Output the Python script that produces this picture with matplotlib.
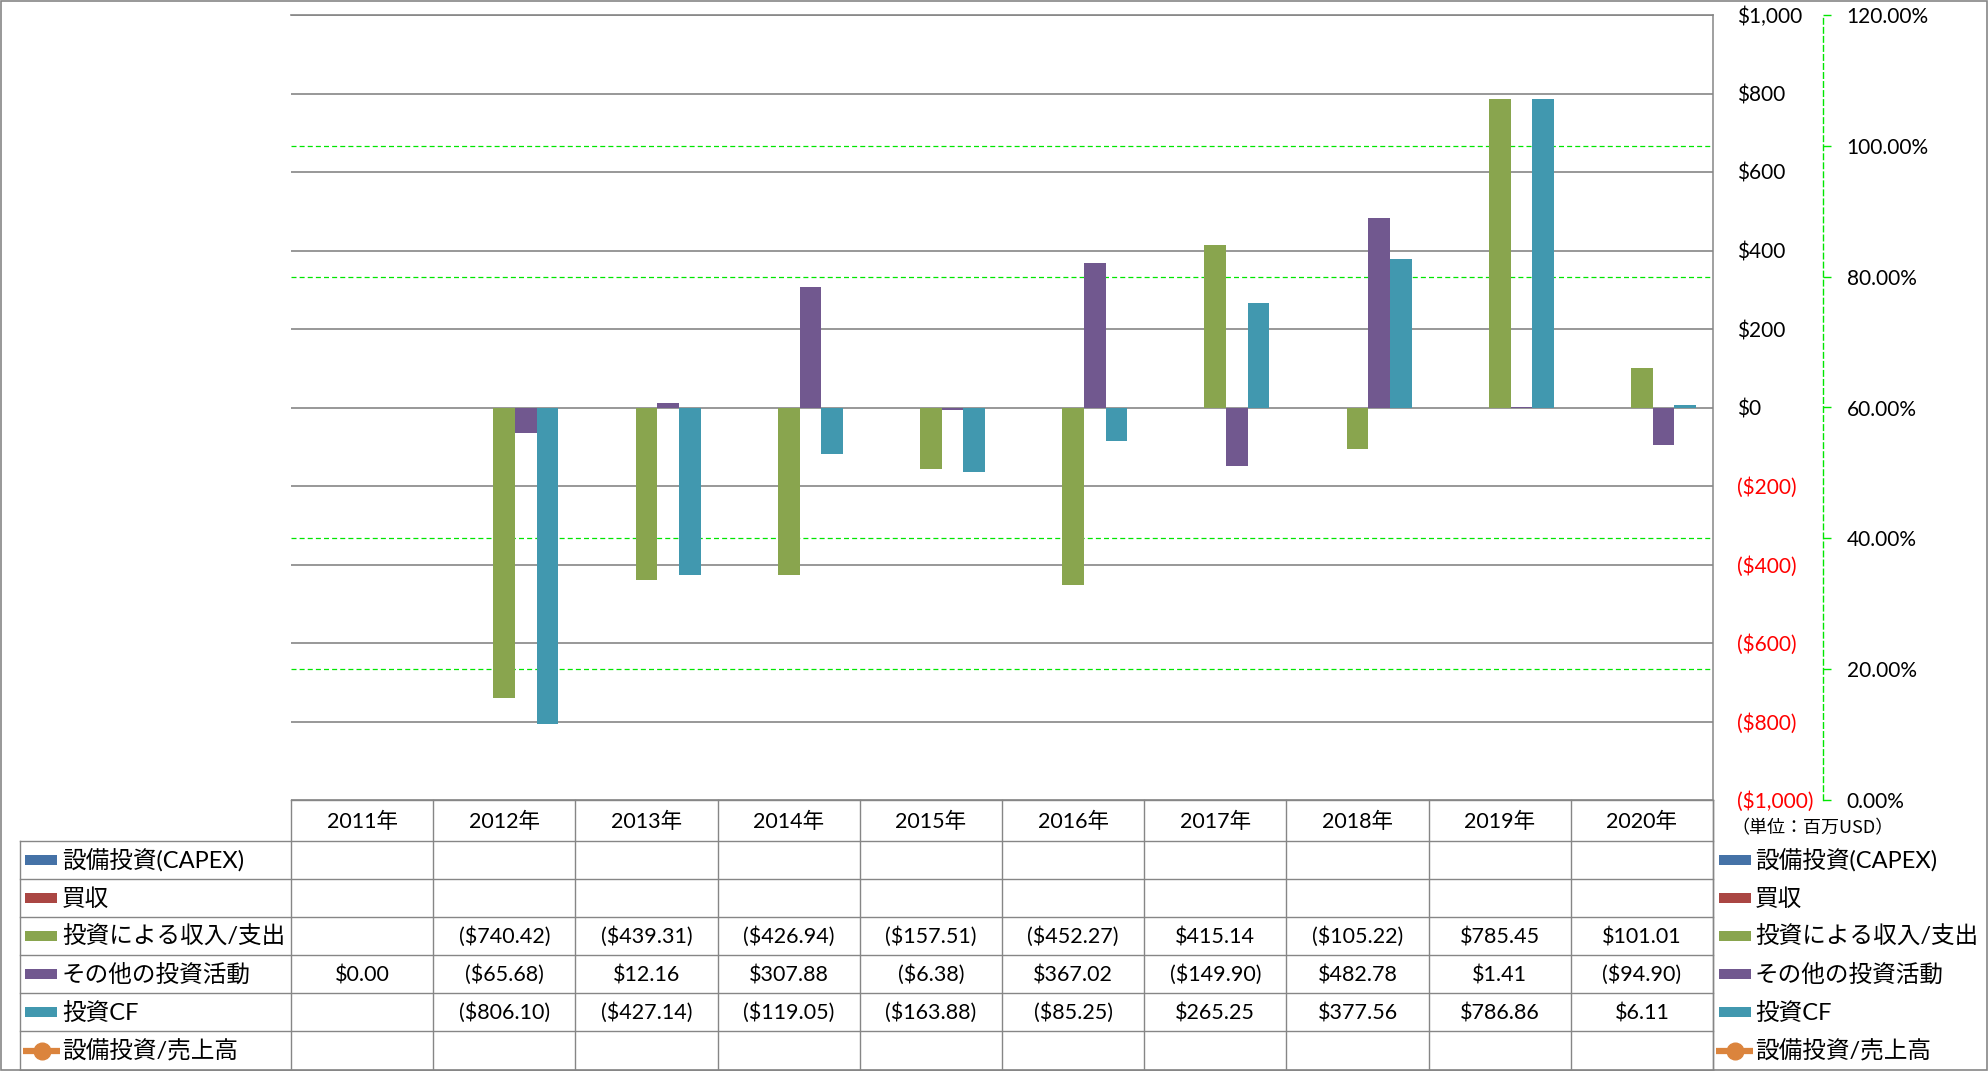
import numpy as np
import matplotlib
matplotlib.use("Agg")
import matplotlib.pyplot as plt
from matplotlib.patches import Rectangle
from matplotlib.lines import Line2D

plt.rcParams['font.family'] = ['Lato', 'Noto Sans CJK JP', 'DejaVu Sans']

# ---------------- data ----------------
years = ['2011年', '2012年', '2013年', '2014年', '2015年', '2016年', '2017年', '2018年', '2019年', '2020年']
series_names = ['設備投資(CAPEX)', '買収', '投資による収入/支出', 'その他の投資活動', '投資CF', '設備投資/売上高']
capex = [None, None, None, None, None, None, None, None, None, None]
acquisitions = [None, None, None, None, None, None, None, None, None, None]
invest_income = [None, -740.42, -439.31, -426.94, -157.51, -452.27, 415.14, -105.22, 785.45, 101.01]
other_invest = [0.00, -65.68, 12.16, 307.88, -6.38, 367.02, -149.90, 482.78, 1.41, -94.90]
invest_cf = [None, -806.10, -427.14, -119.05, -163.88, -85.25, 265.25, 377.56, 786.86, 6.11]
capex_ratio = [None, None, None, None, None, None, None, None, None, None]

y_ticks = [-1000, -800, -600, -400, -200, 0, 200, 400, 600, 800, 1000]
y_tick_labels = ['($1,000)', '($800)', '($600)', '($400)', '($200)', '$0', '$200', '$400', '$600', '$800', '$1,000']
pct_ticks = [0.0, 0.2, 0.4, 0.6, 0.8, 1.0, 1.2]
pct_tick_labels = ['0.00%', '20.00%', '40.00%', '60.00%', '80.00%', '100.00%', '120.00%']
unit_label = '（単位：百万USD）'

colors = ['#4572A7', '#AA4643', '#89A54E', '#71588F', '#4198AF', '#DB843D']
bar_series = [capex, acquisitions, invest_income, other_invest, invest_cf]

# ---------------- layout ----------------
W, H = 1988, 1071
PL, PR, PT, PB = 291, 1713, 15, 800
fig = plt.figure(figsize=(W / 100, H / 100), dpi=100)
fig.patch.set_facecolor('white')

ax2 = fig.add_axes([PL / W, 1 - PB / H, (PR - PL) / W, (PB - PT) / H])
ax = fig.add_axes([PL / W, 1 - PB / H, (PR - PL) / W, (PB - PT) / H])
ax.set_zorder(2)
ax2.set_zorder(1)
ax.patch.set_visible(False)

GRID = '#868686'
LIME = '#00E600'

def to_arr(v):
    return np.array([np.nan if x is None else x for x in v], dtype=float)

n = len(years)
x = np.arange(n)
group = 0.76
bw = group / len(bar_series)
for k, (vals, c) in enumerate(zip(bar_series, colors)):
    ax.bar(x + (k - 2) * bw, to_arr(vals), width=bw, color=c, zorder=3, linewidth=0)
ax.plot(x, to_arr(capex_ratio), color=colors[5], marker='o')

ymin, ymax = -1000, 1000
pmin, pmax = 0.0, 1.2
ax.set_xlim(-0.5, n - 0.5)
ax.set_ylim(ymin, ymax)
ax.set_yticks(y_ticks)
ax.set_yticklabels(y_tick_labels)
ax.yaxis.tick_right()
ax.tick_params(axis='y', length=0, pad=17, labelsize=15)
for lab, v in zip(ax.get_yticklabels(), y_ticks):
    lab.set_color('#FF0000' if v < 0 else 'black')
    lab.set_horizontalalignment('left')
ax.set_xticks([])
ax.grid(axis='y', color=GRID, linewidth=1.2)
ax.set_axisbelow(True)
for s in ['left', 'top', 'bottom']:
    ax.spines[s].set_visible(False)
ax.spines['right'].set_color(GRID)
ax.spines['right'].set_linewidth(1.1)
# top edge gridline (kept fully visible)
ax.axhline(ymax, color=GRID, linewidth=1.2, clip_on=False, zorder=0.6)

ax2.set_ylim(pmin, pmax)
ax2.set_xlim(-0.5, n - 0.5)
ax2.yaxis.tick_right()
ax2.set_yticks(pct_ticks)
ax2.set_yticklabels(pct_tick_labels)
ax2.set_xticks([])
ax2.tick_params(axis='y', length=6, width=1, color=LIME, direction='out', pad=11, labelsize=15)
# secondary gridlines where they are not hidden under the primary ones
for p in pct_ticks:
    prim = ymin + (p - pmin) / (pmax - pmin) * (ymax - ymin)
    if not any(abs(prim - t) < 1e-6 for t in y_ticks):
        ax2.axhline(p, color=LIME, linewidth=0.9, linestyle=(0, (4, 2.5)))
for s in ['left', 'top', 'bottom']:
    ax2.spines[s].set_visible(False)
ax2.spines['right'].set_position(('axes', (1823 - PL) / (PR - PL)))
ax2.spines['right'].set_color(LIME)
ax2.spines['right'].set_linestyle((0, (4, 2.5)))
ax2.spines['right'].set_linewidth(1)

# ---------------- overlay: table, legend, border ----------------
ov = fig.add_axes([0, 0, 1, 1])
ov.set_xlim(0, W)
ov.set_ylim(H, 0)
ov.axis('off')
ov.set_zorder(5)
ov.patch.set_visible(False)

colw = (PR - PL) / n
row_edges = [800, 841, 879, 917, 955, 993, 1031, 1070]
LX = 20
lw_t = 1.0
ov.plot([PL, PR], [row_edges[0]] * 2, color=GRID, lw=lw_t)
for yv in row_edges[1:]:
    ov.plot([LX, PR], [yv] * 2, color=GRID, lw=lw_t)
for i in range(n + 1):
    ov.plot([PL + i * colw] * 2, [row_edges[0], row_edges[-1]], color=GRID, lw=lw_t)
ov.plot([LX, LX], [row_edges[1], row_edges[-1]], color=GRID, lw=lw_t)

hy = (row_edges[0] + row_edges[1]) / 2
for i, yr in enumerate(years):
    ov.text(PL + (i + 0.5) * colw, hy + 1, yr, ha='center', va='center', fontsize=15.5)

def fmt(v):
    if v is None:
        return ''
    if v < 0:
        return '(${:,.2f})'.format(-v)
    return '${:,.2f}'.format(v)

table_series = [capex, acquisitions, invest_income, other_invest, invest_cf, capex_ratio]
for r, (name, vals, c) in enumerate(zip(series_names, table_series, colors)):
    cy = (row_edges[r + 1] + row_edges[r + 2]) / 2
    if r < 5:
        ov.add_patch(Rectangle((25, cy - 5), 32, 10, color=c, lw=0))
        ov.add_patch(Rectangle((1719, cy - 5), 32, 10, color=c, lw=0))
    else:
        for x0 in (23, 1716):
            ov.add_line(Line2D([x0, x0 + 37], [cy, cy], color=c, lw=4.5, solid_capstyle='butt'))
            ov.plot([x0 + 18.5], [cy], marker='o', color=c, markersize=12)
    ov.text(62, cy + 1, name, ha='left', va='center', fontsize=17)
    ov.text(1755, cy + 1, name, ha='left', va='center', fontsize=17)
    for i, v in enumerate(vals):
        if r == 5:
            s = '' if v is None else '{:.2%}'.format(v)
        else:
            s = fmt(v)
        if s:
            ov.text(PL + (i + 0.5) * colw, cy + 1, s, ha='center', va='center', fontsize=15.5)

ov.plot([PR, PR], [PB, row_edges[-1]], color=GRID, lw=lw_t)

ov.text(1731, 828, unit_label, ha='left', va='center', fontsize=13,
        family=['Noto Sans CJK JP'])

ov.add_patch(Rectangle((0.5, 0.5), W - 1.5, H - 1.5, fill=False, edgecolor=GRID, lw=1.2))

fig.savefig('out.png', dpi=100)
